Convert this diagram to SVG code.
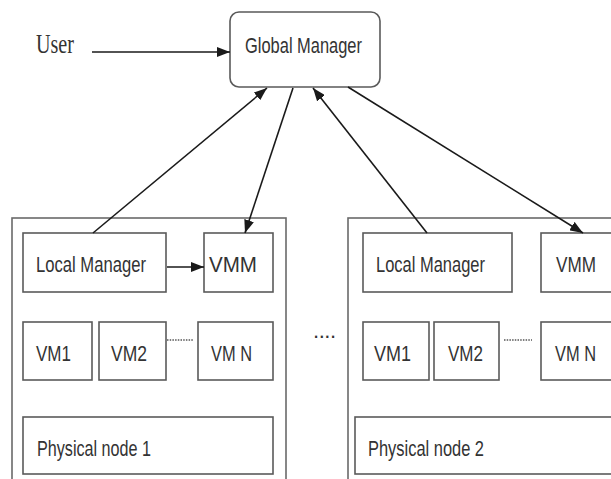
<svg xmlns="http://www.w3.org/2000/svg" width="611" height="479" viewBox="0 0 611 479">
<defs>
<marker id="ah" markerUnits="userSpaceOnUse" markerWidth="14" markerHeight="10" refX="13" refY="5" orient="auto">
<path d="M0,0 L13,5 L0,10 z" fill="#1a1a1a"/>
</marker>
<style>
.box{fill:#fff;stroke:#5a5a5a;stroke-width:1.6}
.outer{fill:none;stroke:#6a6a6a;stroke-width:1.6}
.t{font-family:"Liberation Sans",Arial,sans-serif;font-size:22px;fill:#333}
.u{font-family:"Liberation Serif","Times New Roman",serif;font-size:27px;fill:#333}
.c{stroke:#1a1a1a;stroke-width:1.6;fill:none}
.dot{stroke:#555;stroke-width:1.5;stroke-dasharray:1.5 1.2}
</style>
</defs>
<rect width="611" height="479" fill="#fff"/>
<g id="user"><text class="u" x="36" y="53" textLength="38" lengthAdjust="spacingAndGlyphs">User</text></g>
<g id="global-manager">
<rect class="box" x="230" y="12" width="150" height="75" rx="9"/>
<text class="t" x="245" y="53" textLength="117" lengthAdjust="spacingAndGlyphs">Global Manager</text>
</g>
<g id="physical-node-1-group">
<rect class="outer" x="12" y="218" width="274" height="300"/>
</g>
<g id="local-manager-1">
<rect class="box" x="23" y="233" width="143" height="59"/>
<text class="t" x="36" y="272" textLength="110" lengthAdjust="spacingAndGlyphs">Local Manager</text>
</g>
<g id="vmm-1">
<rect class="box" x="204" y="233" width="69" height="59"/>
<text class="t" x="209" y="272" textLength="48" lengthAdjust="spacingAndGlyphs">VMM</text>
</g>
<g id="vm1-1">
<rect class="box" x="23" y="322" width="69" height="58"/>
<text class="t" x="36" y="361" textLength="35" lengthAdjust="spacingAndGlyphs">VM1</text>
</g>
<g id="vm2-1">
<rect class="box" x="99" y="322" width="67" height="58"/>
<text class="t" x="111" y="361" textLength="36" lengthAdjust="spacingAndGlyphs">VM2</text>
</g>
<g id="vmn-1">
<rect class="box" x="198" y="322" width="75" height="58"/>
<text class="t" x="211" y="361" textLength="41" lengthAdjust="spacingAndGlyphs">VM N</text>
</g>
<g id="physical-node-1">
<rect class="box" x="23" y="417" width="250" height="57"/>
<text class="t" x="37" y="456" textLength="114" lengthAdjust="spacingAndGlyphs">Physical node 1</text>
</g>
<g id="ellipsis">
<text class="t" x="313" y="338" textLength="23" lengthAdjust="spacing">....</text>
</g>
<g id="physical-node-2-group">
<rect class="outer" x="348" y="218" width="300" height="300"/>
</g>
<g id="local-manager-2">
<rect class="box" x="363" y="233" width="149" height="59"/>
<text class="t" x="376" y="272" textLength="109" lengthAdjust="spacingAndGlyphs">Local Manager</text>
</g>
<g id="vmm-2">
<rect class="box" x="541" y="233" width="80" height="59"/>
<text class="t" x="556" y="272" textLength="40" lengthAdjust="spacingAndGlyphs">VMM</text>
</g>
<g id="vm1-2">
<rect class="box" x="363" y="322" width="66" height="58"/>
<text class="t" x="374" y="361" textLength="37" lengthAdjust="spacingAndGlyphs">VM1</text>
</g>
<g id="vm2-2">
<rect class="box" x="434" y="322" width="65" height="58"/>
<text class="t" x="448" y="361" textLength="35" lengthAdjust="spacingAndGlyphs">VM2</text>
</g>
<g id="vmn-2">
<rect class="box" x="541" y="322" width="80" height="58"/>
<text class="t" x="555" y="361" textLength="41" lengthAdjust="spacingAndGlyphs">VM N</text>
</g>
<g id="physical-node-2">
<rect class="box" x="355" y="417" width="270" height="57"/>
<text class="t" x="368" y="456" textLength="116" lengthAdjust="spacingAndGlyphs">Physical node 2</text>
</g>
<g id="connectors">
<line class="c" x1="92" y1="52" x2="230" y2="52" marker-end="url(#ah)"/>
<line class="c" x1="93" y1="233" x2="267" y2="88" marker-end="url(#ah)"/>
<line class="c" x1="293" y1="88" x2="245" y2="233" marker-end="url(#ah)"/>
<line class="c" x1="427" y1="233" x2="313" y2="88" marker-end="url(#ah)"/>
<line class="c" x1="348" y1="87" x2="583" y2="233" marker-end="url(#ah)"/>
<line class="c" x1="167" y1="267" x2="204" y2="267" marker-end="url(#ah)"/>
<line class="dot" x1="167" y1="340" x2="193" y2="340"/>
<line class="dot" x1="504" y1="340" x2="532" y2="340"/>
</g>
</svg>
